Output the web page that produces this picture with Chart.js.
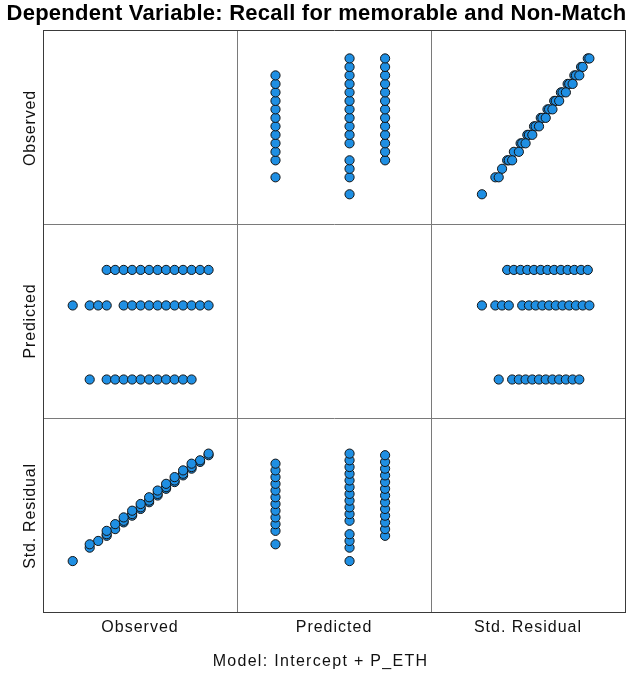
<!DOCTYPE html>
<html>
<head>
<meta charset="utf-8">
<script src="https://cdn.jsdelivr.net/npm/chart.js@4.4.0/dist/chart.umd.min.js"></script>
<style>
  html, body { margin: 0; padding: 0; background: #fff; }
  #wrap { position: relative; width: 633px; height: 677px; overflow: hidden; background: #fff; }
  #c { position: absolute; left: 0; top: 0; }
  .t { position: absolute; font-family: "Liberation Sans", Arial, sans-serif; color: #000; white-space: nowrap; }
  #title { left: 0; width: 633px; top: 0px; text-align: center; font-weight: bold; font-size: 22px; letter-spacing: 0.25px; }
  .col { top: 618px; width: 194px; text-align: center; font-size: 16px; letter-spacing: 1px; color: #111; }
  .row { font-size: 16px; letter-spacing: 0.8px; color: #111; transform: translate(-50%, -50%) rotate(-90deg); }
  #foot { left: 4px; width: 633px; top: 652px; text-align: center; font-size: 16px; letter-spacing: 1.3px; color: #111; }
</style>
</head>
<body>
<div id="wrap">
  <canvas id="c" width="633" height="677"></canvas>
  <div class="t" id="title">Dependent Variable: Recall for memorable and Non-Match</div>
  <div class="t col" style="left:43px">Observed</div>
  <div class="t col" style="left:237px">Predicted</div>
  <div class="t col" style="left:431px">Std. Residual</div>
  <div class="t row" style="left:30px; top:128px">Observed</div>
  <div class="t row" style="left:30px; top:321px">Predicted</div>
  <div class="t row" style="left:30px; top:516px">Std. Residual</div>
  <div class="t" id="foot">Model: Intercept + P_ETH</div>
</div>
<script>
// ---- data ----
const variables = ['Observed', 'Predicted', 'Std. Residual'];

// observed recall values per P_ETH group (low / mid / high predicted)
const observedLow  = [2, 4, 5, 6, 7, 8, 9, 10, 11, 12, 13, 14];
const observedMid  = [0, 2, 3, 4, 6, 7, 8, 9, 10, 11, 12, 13, 14, 15, 16];
const observedHigh = [4, 5, 6, 7, 8, 9, 10, 11, 12, 13, 14, 15, 16];

// predicted value of each group
const predictedByGroup = [10.0, 10.5, 10.74];

// standardized residuals per group
const stdResLow  = [-2.0, -1.5, -1.25, -1.0, -0.75, -0.5, -0.25, 0, 0.25, 0.5, 0.75, 1.0];
const stdResMid  = [-2.625, -2.125, -1.875, -1.625, -1.125, -0.875, -0.625, -0.375, -0.125, 0.125, 0.375, 0.625, 0.875, 1.125, 1.375];
const stdResHigh = [-1.685, -1.435, -1.185, -0.935, -0.685, -0.435, -0.185, 0.065, 0.315, 0.565, 0.815, 1.065, 1.315];

// axis ranges of each variable (no tick labels shown)
const observedRange  = [-3.5, 19.35];
const predictedRange = [9.74, 11.05];
const stdResRange    = [-4.52, 2.7];

// ---- build ----
const observedGroups = [observedLow, observedMid, observedHigh];
const stdResGroups = [stdResLow, stdResMid, stdResHigh];
const ranges = [observedRange, predictedRange, stdResRange];

function valuesOf(v, g) {
  if (v === 0) return observedGroups[g];
  if (v === 1) return observedGroups[g].map(() => predictedByGroup[g]);
  return stdResGroups[g];
}

const FILL = '#1f8fe3';
const EDGE = '#141414';
const OUTER = '#3a3a3a';
const INNER = '#7a7a7a';

const datasets = [];
for (let r = 0; r < 3; r++) {
  for (let c = 0; c < 3; c++) {
    if (r === c) continue;
    for (let g = 0; g < 3; g++) {
      const xs = valuesOf(c, g), ys = valuesOf(r, g);
      datasets.push({
        data: xs.map((x, i) => ({ x: x, y: ys[i] })),
        xAxisID: 'x' + c,
        yAxisID: 'y' + r,
        pointRadius: 4.6,
        pointBorderWidth: 1,
        pointBackgroundColor: FILL,
        pointBorderColor: EDGE,
        showLine: false
      });
    }
  }
}

const scales = {};
for (let i = 0; i < 3; i++) {
  scales['x' + i] = {
    type: 'linear', position: 'bottom', stack: 'cols', stackWeight: 1,
    min: ranges[i][0], max: ranges[i][1],
    ticks: { display: false },
    grid: { drawTicks: false, color: i === 2 ? OUTER : INNER, lineWidth: 1 },
    border: { display: true, color: OUTER, width: 1 },
    afterBuildTicks: s => { s.ticks = [{ value: s.max }]; },
    afterFit: s => { s.height = 0; }
  };
}
for (let i = 0; i < 3; i++) {
  scales['y' + i] = {
    type: 'linear', position: 'left', stack: 'rows', stackWeight: 1,
    weight: 3 - i,
    min: ranges[i][0], max: ranges[i][1],
    ticks: { display: false },
    grid: { drawTicks: false, color: i === 0 ? OUTER : INNER, lineWidth: 1 },
    border: { display: true, color: OUTER, width: 1 },
    afterBuildTicks: s => { s.ticks = [{ value: s.max }]; },
    afterFit: s => { s.width = 0; }
  };
}

new Chart(document.getElementById('c'), {
  type: 'scatter',
  data: { datasets: datasets },
  options: {
    responsive: false,
    animation: false,
    events: [],
    layout: { padding: { left: 43, right: 8, top: 30, bottom: 65 } },
    plugins: { legend: { display: false }, tooltip: { enabled: false }, title: { display: false } },
    scales: scales
  }
});
</script>
</body>
</html>
